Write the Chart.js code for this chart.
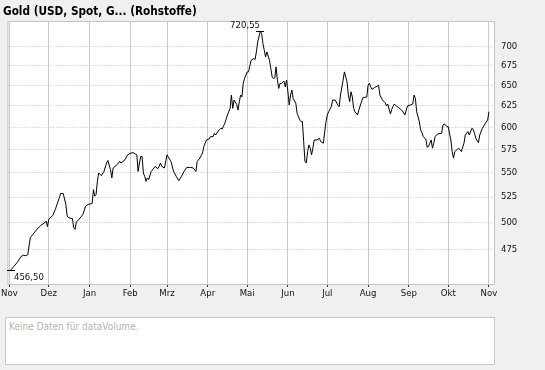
<!DOCTYPE html>
<html><head><meta charset="utf-8">
<script src="https://cdn.jsdelivr.net/npm/chart.js@4"></script>
<style>
html,body{margin:0;padding:0;background:#f0f0f0;width:545px;height:370px;overflow:hidden;}
#title{position:absolute;left:3px;top:4px;font:bold 11.7px "DejaVu Sans Condensed","DejaVu Sans",sans-serif;color:#000;white-space:nowrap;}
#wrap{position:absolute;left:0;top:0;width:545px;height:300px;}
#vol{position:absolute;left:5px;top:317px;width:490px;height:48px;box-sizing:border-box;border:1px solid #c8c8c8;background:#fff;font:10px "DejaVu Sans Condensed","DejaVu Sans",sans-serif;color:#b4b4b4;padding:3px 3px;}
</style></head>
<body>
<div id="wrap"><canvas id="c" width="545" height="300"></canvas></div>
<div id="title">Gold (USD, Spot, G... (Rohstoffe)</div>
<div id="vol">Keine Daten für dataVolume.</div>
<script>
// Days since 2005-11-01
const days = [1,6,9,11,12,14,15,16,18,21,24,27,28,29,30,33,35,38,39,41,43,44,45,48,49,50,51,53,56,58,60,63,64,65,66,67,68,70,72,74,75,77,78,79,82,84,85,88,90,92,94,96,97,98,99,100,101,102,103,104,105,106,108,110,111,113,114,115,116,118,120,123,125,127,129,131,133,135,138,140,142,143,145,147,148,150,152,153,155,156,157,159,161,162,164,166,168,169,170,171,173,174,175,176,177,178,179,181,182,184,186,187,188,189,191,192,193,194,195,196,198,199,200,201,202,203,204,205,206,207,209,210,211,212,213,214,215,216,218,219,221,222,223,224,225,226,227,228,229,230,231,232,234,236,237,239,240,241,242,243,245,246,248,250,251,252,254,255,257,258,259,260,261,262,263,265,266,268,269,271,272,273,274,275,276,278,280,281,282,284,286,287,288,290,291,293,295,296,299,301,303,305,307,308,309,310,312,313,314,315,317,318,319,320,321,322,323,324,326,329,330,331,333,334,336,337,338,339,341,342,344,346,347,349,350,352,353,354,355,357,358,360,362,364,365];
// Gold spot, USD
const prices = [456.5,463.4,468.8,469.9,469.3,470.2,478.2,485.9,489.0,493.6,497.4,499.9,501.5,496.2,503.1,506.9,512.7,524.2,528.5,528.5,517.6,506.3,504.7,503.8,495.2,493.6,500.5,503.1,507.9,515.9,517.6,518.6,532.5,525.8,527.5,541.0,549.6,546.8,551.3,560.2,562.9,553.1,544.5,554.9,558.4,561.9,560.2,563.7,569.0,570.6,571.5,569.8,569.0,551.3,560.2,567.2,567.2,549.6,546.1,541.0,544.5,542.7,551.3,554.9,556.6,554.2,556.6,560.2,556.6,554.9,569.0,561.9,551.3,546.1,541.7,546.1,551.3,555.5,555.5,554.9,551.3,561.9,565.5,570.9,578.0,585.4,586.5,589.1,589.1,592.9,591.0,595.6,598.6,597.8,604.4,614.0,621.8,637.8,621.8,631.7,626.6,619.8,629.7,637.8,635.7,652.1,658.3,666.6,666.6,681.6,683.8,682.5,692.5,705.7,720.55,717.1,703.6,694.7,685.9,692.5,681.6,670.9,660.3,658.3,659.1,673.0,656.2,645.9,652.1,652.1,655.0,647.9,656.2,641.8,625.7,637.8,643.8,633.8,627.8,615.9,608.2,606.2,606.2,583.5,561.9,560.2,572.6,579.9,576.3,569.0,576.3,585.4,585.4,587.3,583.5,581.8,594.8,606.2,614.0,617.8,623.7,631.7,631.7,625.7,623.7,637.8,656.2,666.6,654.1,637.8,629.7,641.8,635.7,621.8,617.8,614.0,619.8,629.7,634.5,635.3,635.3,650.0,652.1,647.9,644.7,647.1,648.7,650.0,637.8,631.7,628.5,624.6,627.0,615.1,620.6,627.0,623.7,623.0,619.0,614.0,624.6,625.7,627.0,637.8,633.8,617.8,606.2,596.7,593.6,589.1,586.2,577.4,578.0,581.8,585.4,576.3,581.8,589.1,592.2,592.9,602.4,603.6,600.5,600.5,585.4,572.6,565.5,572.6,575.2,576.3,572.6,581.8,591.0,594.8,591.0,598.6,597.5,592.9,587.3,582.4,591.0,598.6,603.6,608.2,617.8];
const monthLabels = ['Nov','Dez','Jan','Feb','Mrz','Apr','Mai','Jun','Jul','Aug','Sep','Okt','Nov'];
const yTicks = [475,500,525,550,575,600,625,650,675,700];

const t0 = Date.UTC(2005,10,1);
const monthStarts = monthLabels.map((_,k)=>(Date.UTC(2005,10+k,1)-t0)/86400000);
const points = days.map((d,i)=>({x:d,y:prices[i]}));
const FONT = 'DejaVu Sans Condensed';

const frame = {
  id:'frame',
  beforeDraw(chart){
    const {ctx, chartArea:a} = chart;
    ctx.save(); ctx.fillStyle='#fff';
    ctx.fillRect(a.left,a.top,a.right-a.left,a.bottom-a.top);
    ctx.restore();
  },
  beforeDatasetsDraw(chart){
    const {ctx, chartArea:a} = chart;
    ctx.save(); ctx.strokeStyle='#c4c4c4'; ctx.lineWidth=1;
    ctx.strokeRect(a.left-0.5,a.top+0.5,a.right-a.left,a.bottom-a.top);
    ctx.restore();
  }
};
const extremes = {
  id:'extremes',
  afterDatasetsDraw(chart){
    const ctx=chart.ctx, xs=chart.scales.x, ys=chart.scales.y;
    let iMax=0,iMin=0;
    prices.forEach((v,i)=>{ if(v>prices[iMax]) iMax=i; if(v<prices[iMin]) iMin=i; });
    const fmt=v=>v.toFixed(2).replace('.',',');
    ctx.save();
    ctx.strokeStyle='#000'; ctx.lineWidth=1; ctx.fillStyle='#111';
    ctx.font='9.5px "'+FONT+'"';
    let x=Math.round(xs.getPixelForValue(days[iMax])), y=Math.round(ys.getPixelForValue(prices[iMax]))+0.5;
    ctx.beginPath(); ctx.moveTo(x-4,y); ctx.lineTo(x+4,y); ctx.stroke();
    ctx.textAlign='right'; ctx.textBaseline='bottom';
    ctx.fillText(fmt(prices[iMax]), x, y-1);
    x=Math.round(xs.getPixelForValue(days[iMin])); y=Math.round(ys.getPixelForValue(prices[iMin]))+0.5;
    ctx.beginPath(); ctx.moveTo(x-4,y); ctx.lineTo(x+4,y); ctx.stroke();
    ctx.textAlign='left'; ctx.textBaseline='top';
    ctx.fillText(fmt(prices[iMin]), x+3, y+2);
    ctx.restore();
  }
};

new Chart(document.getElementById('c'), {
  type:'line',
  data:{datasets:[{data:points, borderColor:'#000', borderWidth:1, pointRadius:0, tension:0, fill:false}]},
  options:{
    responsive:false, animation:false, devicePixelRatio:1,
    layout:{autoPadding:false, padding:{left:5, top:21, right:0, bottom:0}},
    plugins:{legend:{display:false}, tooltip:{enabled:false}, title:{display:false}},
    scales:{
      x:{type:'linear', min:-0.75, max:369.6,
        afterBuildTicks:ax=>{ax.ticks=monthStarts.map(v=>({value:v}));},
        afterFit:s=>{s.height=16;},
        ticks:{autoSkip:false, maxRotation:0, padding:1, color:'#111', font:{family:FONT,size:9.5},
          callback:(v,i)=>monthLabels[i]},
        grid:{color:'#cacaca', lineWidth:1, drawTicks:true, tickLength:3, tickColor:'#333'},
        border:{display:false}},
      y:{type:'logarithmic', position:'right', min:444.7, max:734.6,
        afterBuildTicks:ax=>{ax.ticks=yTicks.map(v=>({value:v}));},
        afterFit:s=>{s.width=50;},
        ticks:{padding:6, color:'#111', font:{family:FONT,size:9.5}, callback:v=>String(v)},
        grid:{color:'#bdbdbd', drawTicks:false},
        border:{display:false, dash:[1,2]}}
    }
  },
  plugins:[frame, extremes]
});
</script>
</body></html>
